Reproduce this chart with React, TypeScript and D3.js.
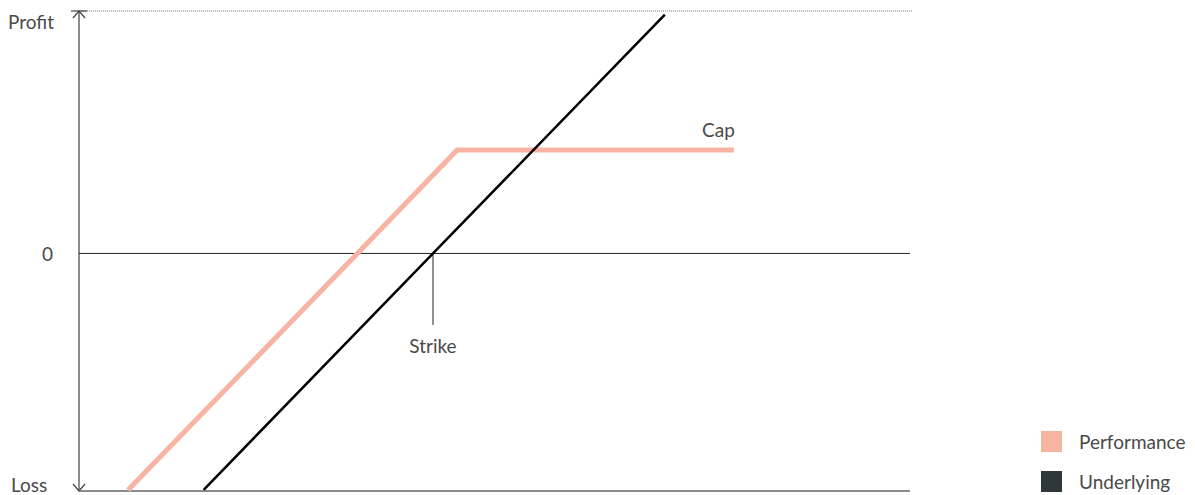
import * as d3 from "d3";
import React from "react";

// payoff diagram data (underlying price on x, profit on y)
const underlyingX = [15, 42.6, 70.5];
const underlyingY = [-97.5, 0, 98.5];
const performanceX = [5.9, 33.5, 45.5, 78.8];
const performanceY = [-97.6, 0, 42.7, 42.7];
const strikeValue = 42.6;
const strikeTickEnd = -29.5;
const yLabels = ["Profit", "0", "Loss"];
const legendNames = ["Performance", "Underlying"];
const legendColors = ["#f7b4a3", "#2e383c"];

const W = 1195;
const H = 495;
const FONT = "Lato, 'Open Sans', sans-serif";

export default function App() {
  const x = d3.scaleLinear().domain([0, 100]).range([79, 910]);
  const y = d3.scaleLinear().domain([-98, 100]).range([491, 11]);

  const line = d3
    .line<[number, number]>()
    .x((d) => x(d[0]))
    .y((d) => y(d[1]));

  const perf = performanceX.map((v, i) => [v, performanceY[i]] as [number, number]);
  const under = underlyingX.map((v, i) => [v, underlyingY[i]] as [number, number]);

  const x0 = x(0);
  const yTop = y(100);
  const yBot = y(-98);
  const yZero = y(0);
  const xEnd = x(100);
  const capEnd = perf[perf.length - 1];

  return (
    <svg
      width={W}
      height={H}
      style={{ position: "absolute", left: 0, top: 0, fontFamily: FONT }}
    >
      {/* top dotted guide */}
      <line x1={x0} x2={xEnd + 2} y1={yTop} y2={yTop} stroke="#777" strokeWidth={1} strokeDasharray="1,1" />
      {/* vertical axis with arrows */}
      <line x1={x0} x2={x0} y1={yTop} y2={yBot} stroke="#666" strokeWidth={1.5} />
      <path d={`M${x0 - 6},${yTop + 7}L${x0},${yTop}L${x0 + 6},${yTop + 7}`} fill="none" stroke="#444" strokeWidth={1.2} />
      <path d={`M${x0 - 6},${yBot - 7}L${x0},${yBot}L${x0 + 6},${yBot - 7}`} fill="none" stroke="#444" strokeWidth={1.2} />
      <line x1={x0 - 8} x2={x0 + 8} y1={yTop} y2={yTop} stroke="#444" strokeWidth={1.2} />
      {/* bottom axis */}
      <line x1={x0} x2={xEnd} y1={yBot} y2={yBot} stroke="#666" strokeWidth={1.5} />
      {/* zero line */}
      <line x1={x0} x2={xEnd} y1={yZero} y2={yZero} stroke="#222" strokeWidth={1} />
      {/* strike tick */}
      <line x1={x(strikeValue)} x2={x(strikeValue)} y1={yZero} y2={y(strikeTickEnd)} stroke="#222" strokeWidth={1} />

      <path d={line(perf) || ""} fill="none" stroke={legendColors[0]} strokeWidth={5} />
      <path d={line(under) || ""} fill="none" stroke="#000" strokeWidth={2.5} />

      <g fill="#4a4a4a" fontSize={19}>
        <text x={8} y={29}>{yLabels[0]}</text>
        <text x={53} y={261} textAnchor="end">{yLabels[1]}</text>
        <text x={11} y={492}>{yLabels[2]}</text>
        <text x={x(strikeValue)} y={353} textAnchor="middle">Strike</text>
        <text x={x(capEnd[0]) + 1} y={137} textAnchor="end">Cap</text>
      </g>

      {legendNames.map((name, i) => (
        <g key={name} transform={`translate(1041,${431 + i * 40})`}>
          <rect width={21} height={21} fill={legendColors[i]} />
          <text x={38} y={18} fontSize={19} fill="#4a4a4a">{name}</text>
        </g>
      ))}
    </svg>
  );
}
